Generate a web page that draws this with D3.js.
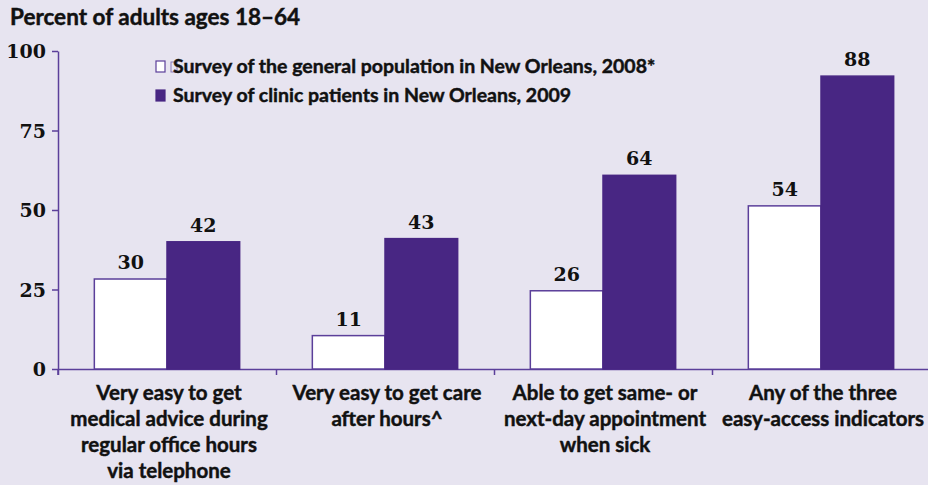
<!DOCTYPE html>
<html lang="en">
<head>
    <meta charset="UTF-8">
    <title>Easy access to care, New Orleans</title>
    <script src="https://cdn.jsdelivr.net/npm/d3@7"></script>
    <style>
        * {
            margin: 0;
            padding: 0;
        }
        body {
            background-color: #e7e4f0;
            width: 928px;
            height: 485px;
            overflow: hidden;
        }
        .sans {
            font-family: Lato, "Open Sans", sans-serif;
            font-weight: bold;
            fill: #111;
            stroke: #111;
            stroke-width: 0.45px;
        }
        .num {
            font-family: "DejaVu Serif", serif;
            font-weight: bold;
            fill: #111;
        }
    </style>
</head>
<body>
<svg id="chart" width="928" height="485"></svg>
<script>
// categories (x-axis labels, one line per entry)
const categories = [
    ["Very easy to get", "medical advice during", "regular office hours", "via telephone"],
    ["Very easy to get care", "after hours^"],
    ["Able to get same- or", "next-day appointment", "when sick"],
    ["Any of the three", "easy-access indicators"]
];
const seriesNames = [
    "Survey of the general population in New Orleans, 2008*",
    "Survey of clinic patients in New Orleans, 2009"
];
// printed value labels
const general2008 = [30, 11, 26, 54];
const clinic2009 = [42, 43, 64, 88];
// bar heights as drawn in the picture (they differ slightly from the printed labels)
const general2008Bars = [28.3, 10.5, 24.6, 51.3];
const clinic2009Bars = [40.0, 41.0, 60.9, 92.1];
const yTicks = [0, 25, 50, 75, 100];

const purple = "#482683";
const axisColor = "#5b3f9a";

const svg = d3.select("#chart");
const plotLeft = 58, plotRight = 930, plotTop = 51, plotBottom = 369;

const x0 = d3.scaleBand()
    .domain(d3.range(categories.length))
    .range([plotLeft, plotRight]);
const x1 = d3.scaleBand()
    .domain([0, 1])
    .range([0, x0.bandwidth()])
    .paddingOuter(0.5);
const y = d3.scaleLinear().domain([0, 100]).range([plotBottom, plotTop]);

// title
svg.append("text")
    .attr("class", "sans")
    .attr("x", 10)
    .attr("y", 25)
    .style("font-size", "22.5px")
    .text("Percent of adults ages 18\u201364");

// y axis
const yAxis = svg.append("g")
    .attr("transform", `translate(${plotLeft},0)`)
    .call(d3.axisLeft(y).tickValues(yTicks).tickSize(6).tickSizeOuter(0).tickPadding(6));
yAxis.selectAll("path, line").attr("stroke", axisColor).attr("stroke-width", 1.5);
yAxis.selectAll("text")
    .attr("class", "num")
    .style("font-size", "19px")
    .attr("dy", "0.36em");
// axis continues a bit below zero
yAxis.append("line")
    .attr("x1", 0).attr("x2", 0)
    .attr("y1", plotBottom).attr("y2", plotBottom + 6)
    .attr("stroke", axisColor).attr("stroke-width", 1.5);

// x axis: baseline with ticks at category boundaries
const xb = d3.scaleLinear().domain([0, categories.length]).range([plotLeft, plotRight]);
const xAxis = svg.append("g")
    .attr("transform", `translate(0,${plotBottom})`)
    .call(d3.axisBottom(xb).ticks(categories.length).tickFormat("").tickSize(6).tickSizeOuter(0));
xAxis.selectAll("path, line").attr("stroke", axisColor).attr("stroke-width", 1.5);

// bars
const groups = svg.selectAll("g.cat")
    .data(categories.map((c, i) => i))
    .join("g")
    .attr("class", "cat")
    .attr("transform", i => `translate(${x0(i)},0)`);

const barData = i => [
    { s: 0, bar: general2008Bars[i], label: general2008[i] },
    { s: 1, bar: clinic2009Bars[i], label: clinic2009[i] }
];

groups.selectAll("rect")
    .data(barData)
    .join("rect")
    .attr("x", d => x1(d.s))
    .attr("width", x1.bandwidth())
    .attr("y", d => y(d.bar))
    .attr("height", d => y(0) - y(d.bar))
    .attr("fill", d => d.s === 0 ? "#ffffff" : purple)
    .attr("stroke", d => d.s === 0 ? axisColor : purple)
    .attr("stroke-width", 1.5);

groups.selectAll("text.val")
    .data(barData)
    .join("text")
    .attr("class", "num val")
    .attr("x", d => x1(d.s) + x1.bandwidth() / 2)
    .attr("y", d => y(d.bar) - 10)
    .attr("text-anchor", "middle")
    .style("font-size", "19px")
    .text(d => d.label);

// category labels
groups.append("text")
    .attr("class", "sans")
    .attr("text-anchor", "middle")
    .style("font-size", "20.5px")
    .selectAll("tspan")
    .data(i => categories[i])
    .join("tspan")
    .attr("x", x0.bandwidth() / 2 + 2)
    .attr("y", (d, k) => 400 + k * 26)
    .text(d => d);

// legend
const legend = svg.append("g").attr("transform", "translate(156,0)");
const legendY = [61, 90];
legend.selectAll("rect.key")
    .data(seriesNames)
    .join("rect")
    .attr("class", "key")
    .attr("x", 0)
    .attr("y", (d, i) => legendY[i])
    .attr("width", 9)
    .attr("height", 11)
    .attr("fill", (d, i) => i === 0 ? "#ffffff" : purple)
    .attr("stroke", (d, i) => i === 0 ? axisColor : purple)
    .attr("stroke-width", 1.2);
// stray glyph box in the original legend
legend.append("rect")
    .attr("x", 15).attr("y", 62)
    .attr("width", 6).attr("height", 10)
    .attr("fill", "none")
    .attr("stroke", "#8a78b8")
    .attr("stroke-width", 1);
legend.selectAll("text")
    .data(seriesNames)
    .join("text")
    .attr("class", "sans")
    .attr("x", 17)
    .attr("y", (d, i) => legendY[i] + 12)
    .style("font-size", "19.5px")
    .text(d => d);
</script>
</body>
</html>
